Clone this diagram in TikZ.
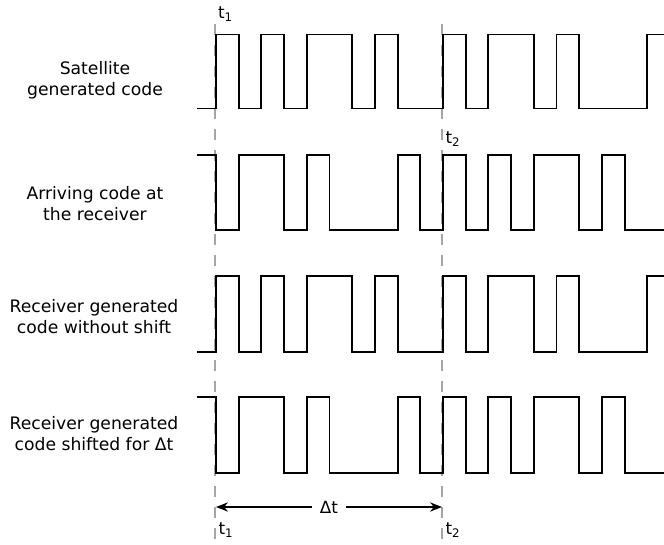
\documentclass[tikz,border=0pt]{standalone}
\usepackage{fontspec}
\setmainfont{DejaVu Sans}
\usetikzlibrary{arrows.meta}
\definecolor{dashgray}{RGB}{165,165,165}
\newcommand\wavA[2]{%
\draw[wave] (197,#2) -- (216,#2) -- (216,#1) -- (238.7,#1) -- (238.7,#2) -- (261.4,#2) -- (261.4,#1) -- (284.1,#1) -- (284.1,#2) -- (306.8,#2) -- (306.8,#1) -- (352.2,#1) -- (352.2,#2) -- (374.9,#2) -- (374.9,#1) -- (397.6,#1) -- (397.6,#2) -- (443,#2) -- (443,#1) -- (465.7,#1) -- (465.7,#2) -- (488.4,#2) -- (488.4,#1) -- (533.8,#1) -- (533.8,#2) -- (556.5,#2) -- (556.5,#1) -- (579.2,#1) -- (579.2,#2) -- (647.3,#2) -- (647.3,#1) -- (666,#1);}
\newcommand\wavB[2]{%
\draw[wave] (197,#1) -- (216,#1) -- (216,#2) -- (238.7,#2) -- (238.7,#1) -- (284.1,#1) -- (284.1,#2) -- (306.8,#2) -- (306.8,#1) -- (329.5,#1) -- (329.5,#2) -- (397.6,#2) -- (397.6,#1) -- (420.3,#1) -- (420.3,#2) -- (443,#2) -- (443,#1) -- (465.7,#1) -- (465.7,#2) -- (488.4,#2) -- (488.4,#1) -- (511.1,#1) -- (511.1,#2) -- (533.8,#2) -- (533.8,#1) -- (579.2,#1) -- (579.2,#2) -- (601.9,#2) -- (601.9,#1) -- (624.6,#1) -- (624.6,#2) -- (666,#2);}
\begin{document}
\begin{tikzpicture}[x=0.75pt,y=-0.75pt,
  wave/.style={line width=1.4pt,line join=miter,black},
  guide/.style={dashgray,line width=1.1pt,dash pattern=on 8.25pt off 7.5pt},
  lbl/.style={align=center,font=\fontsize{12.9}{15.8}\selectfont,inner sep=0pt},
  tlbl/.style={font=\fontsize{12.6}{15}\selectfont,inner sep=0pt},
  dtarrow/.style={line width=0.9pt,>={Stealth[length=9pt,width=7pt]},<->}]
\useasboundingbox (0,0) rectangle (664,545);
\fill[white] (0,0) rectangle (664,545);
% guide lines
\coordinate (g1top) at (215,24);
\coordinate (g1bot) at (215,543);
\coordinate (g2top) at (442,24);
\coordinate (g2bot) at (442,543);
\draw[guide] (g1top) -- (g1bot);
\draw[guide] (g2top) -- (g2bot);
% waveforms
\wavA{34.5}{108.5}
\wavB{155}{230}
\wavA{275.7}{351.7}
\wavB{396.7}{472.7}
% row labels
\node[lbl] (l1) at (95,80.5) {Satellite\\generated code};
\node[lbl] (l2) at (95,204) {Arriving code at\\the receiver};
\node[lbl] (l3) at (94,316.5) {Receiver generated\\code without shift};
\node[lbl] (l4) at (94,433.5) {Receiver generated\\code shifted for Δt};
% time labels
\node[tlbl] (t1a) at (225.5,14) {t\textsubscript{1}};
\node[tlbl] (t2a) at (453,139) {t\textsubscript{2}};
\node[tlbl] (t1b) at (226,530) {t\textsubscript{1}};
\node[tlbl] (t2b) at (453,530) {t\textsubscript{2}};
% delta t arrow
\coordinate (d1) at (216,507);
\coordinate (d2) at (442,507);
\draw[dtarrow] (d1) -- (d2)
  node[midway,fill=white,inner xsep=6pt,inner ysep=2pt,font=\fontsize{12.6}{15}\selectfont] (dt) {Δt};
\end{tikzpicture}
\end{document}
